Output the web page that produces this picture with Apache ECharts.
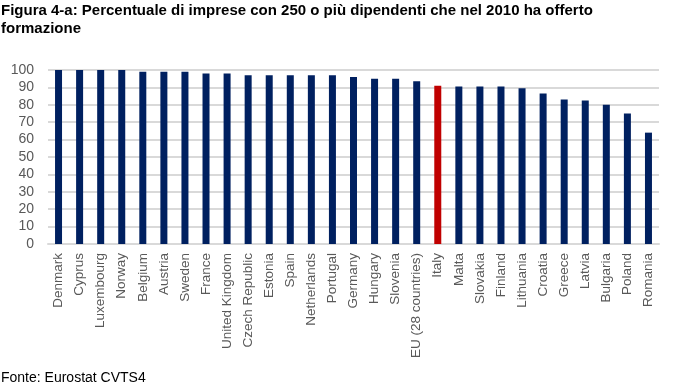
<!DOCTYPE html>
<html><head><meta charset="utf-8">
<script src="https://cdn.jsdelivr.net/npm/echarts@6/dist/echarts.min.js"></script>
<style>html,body{margin:0;padding:0;background:#fff}#c{width:675px;height:387px}</style>
</head><body><div id="c"></div>
<script>
const categories = ["Denmark","Cyprus","Luxembourg","Norway","Belgium","Austria","Sweden","France","United Kingdom","Czech Republic","Estonia","Spain","Netherlands","Portugal","Germany","Hungary","Slovenia","EU (28 countries)","Italy","Malta","Slovakia","Finland","Lithuania","Croatia","Greece","Latvia","Bulgaria","Poland","Romania"];
const values = [100,100,100,100,99,99,99,98,98,97,97,97,97,97,96,95,95,93.5,91,90.5,90.5,90.5,89.5,86.5,83,82.5,80,75,64];
const highlight = "Italy";
const yTicks = {min:0, max:100, interval:10};
const titleText = "Figura 4-a: Percentuale di imprese con 250 o più dipendenti che nel 2010 ha offerto\nformazione";
const sourceText = "Fonte: Eurostat CVTS4";

const chart = echarts.init(document.getElementById('c'), null, {renderer:'canvas'});
chart.setOption({
  animation:false,
  backgroundColor:'#fff',
  title:[{text:titleText,left:1,top:2,padding:0,textStyle:{fontFamily:'Liberation Sans, Arial',fontSize:15,fontWeight:'bold',color:'#000',lineHeight:18}},
         {text:sourceText,left:1,top:371,padding:0,textStyle:{fontFamily:'Liberation Sans, Arial',fontSize:14,fontWeight:'normal',color:'#000'}}],
  grid:{left:48,right:16,top:70,bottom:143,containLabel:false},
  xAxis:{type:'category',data:categories,
    axisLine:{lineStyle:{color:'#d9d9d9',width:2}},axisTick:{show:false},
    axisLabel:{rotate:90,interval:0,fontFamily:'Liberation Sans, Arial',fontSize:13.5,color:'#595959',margin:9}},
  yAxis:{type:'value',min:yTicks.min,max:yTicks.max,interval:yTicks.interval,
    axisLine:{show:false},axisTick:{show:false},
    splitLine:{lineStyle:{color:'#d9d9d9',width:2}},
    axisLabel:{fontFamily:'Liberation Sans, Arial',fontSize:14,color:'#595959',margin:14}},
  series:[{type:'bar',barWidth:7,
    data:values.map((v,i)=>({value:v,itemStyle:{color:categories[i]===highlight?'#C00000':'#002060'}}))}]
});
</script></body></html>
